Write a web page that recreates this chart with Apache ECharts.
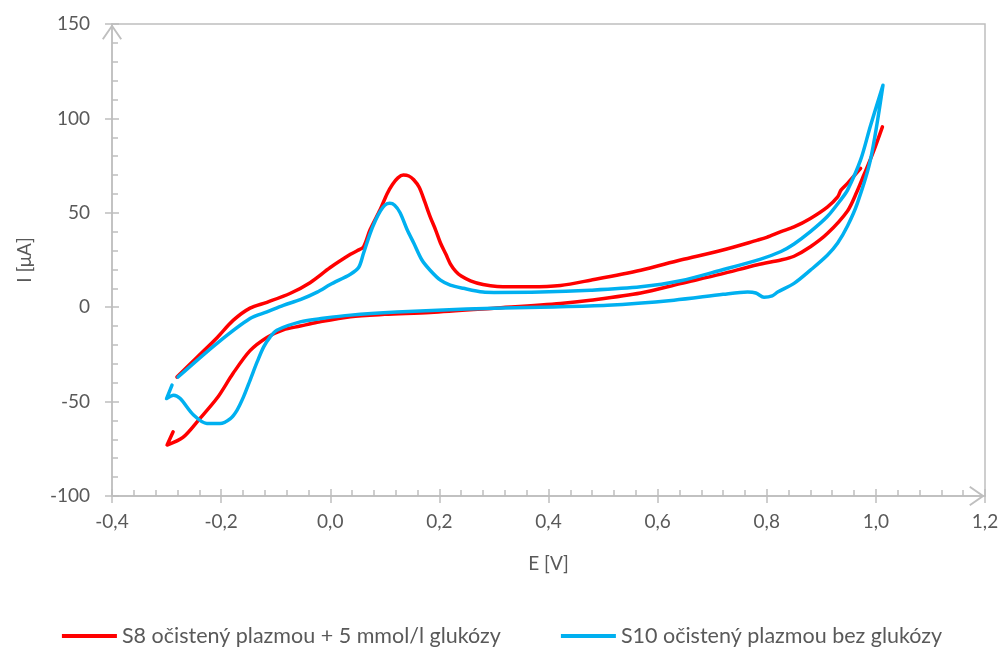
<!DOCTYPE html>
<html>
<head>
<meta charset="utf-8">
<script src="https://cdn.jsdelivr.net/npm/echarts@6/dist/echarts.min.js"></script>
<style>
html,body{margin:0;padding:0;background:#fff;}
#chart{width:1004px;height:649px;}
</style>
</head>
<body>
<div id="chart"></div>
<script>
// ---- data ----
const seriesNames = ['S8 očistený plazmou + 5 mmol/l glukózy', 'S10 očistený plazmou bez glukózy'];
const xAxisName = 'E [V]';
const yAxisName = 'I [μA]';
const xTicks = [-0.4, -0.2, 0.0, 0.2, 0.4, 0.6, 0.8, 1.0, 1.2];
const yTicks = [-100, -50, 0, 50, 100, 150];

// S8: forward (lower) branch
const s8Lower = [
  [-0.288,-66], [-0.299,-73], [-0.27,-69], [-0.239,-59], [-0.207,-48], [-0.178,-35],
  [-0.147,-23], [-0.116,-16], [-0.086,-12], [-0.055,-10], [-0.024,-8], [0.037,-5],
  [0.1,-3.8], [0.183,-2.8], [0.3,-0.5], [0.422,2], [0.477,3.7], [0.569,7.5], [0.642,12.5],
  [0.716,17.5], [0.783,22.5], [0.826,25], [0.85,27], [0.88,32], [0.911,39], [0.948,51],
  [0.965,61], [0.978,70], [0.995,82], [1.012,95.5]
];
// S8: reverse (upper) branch
const s8Upper = [
  [0.972,73.5], [0.948,65.6], [0.936,62], [0.93,58.4], [0.911,53], [0.88,47], [0.85,42.5],
  [0.826,40], [0.8,37], [0.783,35.5], [0.716,30], [0.642,25], [0.569,19.6], [0.477,14.3],
  [0.422,11.5], [0.367,10.8], [0.306,11], [0.28,12], [0.257,14], [0.24,16.5], [0.23,19],
  [0.22,23], [0.212,28], [0.202,34], [0.193,41], [0.183,48], [0.173,56], [0.163,63.5],
  [0.153,67.5], [0.144,69.5], [0.134,70], [0.124,68.5], [0.114,65], [0.104,60], [0.092,52],
  [0.073,41], [0.061,32], [0.05,30], [0.037,28], [0,21], [-0.037,13], [-0.073,7.4],
  [-0.116,2.6], [-0.147,-0.5], [-0.178,-7], [-0.207,-16], [-0.244,-26.5], [-0.281,-37]
];
// S10: forward (lower) branch
const s10Lower = [
  [-0.29,-41.3], [-0.3,-48.4], [-0.287,-46.6], [-0.275,-48.4], [-0.251,-57], [-0.226,-61.6],
  [-0.202,-61.6], [-0.183,-59], [-0.171,-54.6], [-0.159,-47.5], [-0.147,-38.7], [-0.134,-29],
  [-0.122,-21], [-0.11,-15.7], [-0.098,-12.2], [-0.055,-7.8], [-0.013,-5.9], [0.037,-4.2],
  [0.122,-2.6], [0.25,-1], [0.385,0], [0.508,1], [0.63,3.7], [0.72,6.8], [0.765,8],
  [0.78,7.5], [0.795,5.3], [0.81,6], [0.82,8], [0.85,12.6], [0.88,19.6], [0.911,27.5],
  [0.93,34], [0.948,43], [0.966,55], [0.99,78], [1.013,117.6]
];
// S10: reverse (upper) branch
const s10Upper = [
  [1.013,117.6], [0.99,96], [0.972,78], [0.948,62], [0.936,57], [0.911,48], [0.88,40],
  [0.85,33.5], [0.826,29.5], [0.789,25.5], [0.716,19.6], [0.642,14], [0.569,10.8], [0.477,9],
  [0.385,8], [0.3,7.8], [0.28,8], [0.244,10], [0.22,11.7], [0.202,14.3], [0.183,19.6],
  [0.168,25], [0.153,34], [0.141,41], [0.128,50], [0.118,54], [0.109,55], [0.1,54],
  [0.092,51], [0.083,46], [0.073,39], [0.061,28.6], [0.052,21], [0.037,17.5], [0,12],
  [-0.024,8], [-0.055,4], [-0.086,1], [-0.116,-2.5], [-0.147,-6], [-0.207,-19], [-0.279,-37]
];

// ---- chart ----
const FONT = 'Lato';
const TXT = '#595959';
const AX = '#bfbfbf';
const chevron = 'path://M0,14.5 L10,0 L20,14.5 L18.4,15.6 L10,3.4 L1.6,15.6 Z';

const s8Data = s8Lower.concat([[null, null]], s8Upper);
const s10Data = s10Lower.concat(s10Upper.slice(1));

const xMin = xTicks[0], xMax = xTicks[xTicks.length - 1];
const yMin = yTicks[0], yMax = yTicks[yTicks.length - 1];
const xInt = xTicks[1] - xTicks[0], yInt = yTicks[1] - yTicks[0];

const chart = echarts.init(document.getElementById('chart'), null, {renderer: 'canvas'});
chart.setOption({
  animation: false,
  textStyle: {fontFamily: FONT},
  grid: {left: 112, right: 19, top: 24, bottom: 153, show: true, borderColor: AX, borderWidth: 1.5},
  legend: {
    bottom: -3, left: 'center', icon: 'rect', itemWidth: 55, itemHeight: 4, itemGap: 60,
    textStyle: {fontFamily: FONT, fontSize: 21.5, color: TXT},
    data: seriesNames
  },
  xAxis: [{
    type: 'value', min: xMin, max: xMax, interval: xInt, position: 'bottom',
    name: xAxisName, nameLocation: 'middle', nameGap: 58,
    nameTextStyle: {fontFamily: FONT, fontSize: 19, color: TXT},
    axisLine: {show: true, onZero: false, lineStyle: {color: AX, width: 1.5}, symbol: ['none', chevron], symbolSize: [20, 16], symbolOffset: [0, -8]},
    axisTick: {show: true, inside: false, length: 7, lineStyle: {color: AX, width: 1.5}},
    axisLabel: {fontFamily: FONT, fontSize: 19, color: TXT, margin: 16,
      formatter: v => v.toFixed(1).replace('.', ',')},
    splitLine: {show: false}
  }, {
    type: 'value', min: xMin, max: xMax, interval: xInt, position: 'bottom',
    axisLine: {show: false, onZero: false},
    axisTick: {show: true, inside: true, length: 7, lineStyle: {color: AX, width: 1.5}},
    minorTick: {show: true, splitNumber: 5, length: 6, lineStyle: {color: AX, width: 1.5}},
    axisLabel: {show: false}, splitLine: {show: false}
  }],
  yAxis: [{
    type: 'value', min: yMin, max: yMax, interval: yInt, position: 'left',
    name: yAxisName, nameLocation: 'middle', nameGap: 78, nameRotate: 90,
    nameTextStyle: {fontFamily: FONT, fontSize: 19, color: TXT},
    axisLine: {show: true, onZero: false, lineStyle: {color: AX, width: 1.5}, symbol: ['none', chevron], symbolSize: [20, 16], symbolOffset: [0, -8]},
    axisTick: {show: true, inside: false, length: 7, lineStyle: {color: AX, width: 1.5}},
    axisLabel: {fontFamily: FONT, fontSize: 19, color: TXT, margin: 22},
    splitLine: {show: false}
  }, {
    type: 'value', min: yMin, max: yMax, interval: yInt, position: 'left',
    axisLine: {show: false, onZero: false},
    axisTick: {show: true, inside: true, length: 7, lineStyle: {color: AX, width: 1.5}},
    minorTick: {show: true, splitNumber: 5, length: 6, lineStyle: {color: AX, width: 1.5}},
    axisLabel: {show: false}, splitLine: {show: false}
  }],
  series: [{
    name: seriesNames[0], type: 'line', xAxisIndex: 0, yAxisIndex: 0,
    data: s8Data, showSymbol: false, smooth: 0.3, connectNulls: false,
    lineStyle: {color: '#ff0000', width: 3.5, cap: 'round', join: 'round'},
    itemStyle: {color: '#ff0000'}
  }, {
    name: seriesNames[1], type: 'line', xAxisIndex: 0, yAxisIndex: 0,
    data: s10Data, showSymbol: false, smooth: 0.3,
    lineStyle: {color: '#00b0f0', width: 3.5, cap: 'round', join: 'round'},
    itemStyle: {color: '#00b0f0'}
  }]
});
</script>
</body>
</html>
